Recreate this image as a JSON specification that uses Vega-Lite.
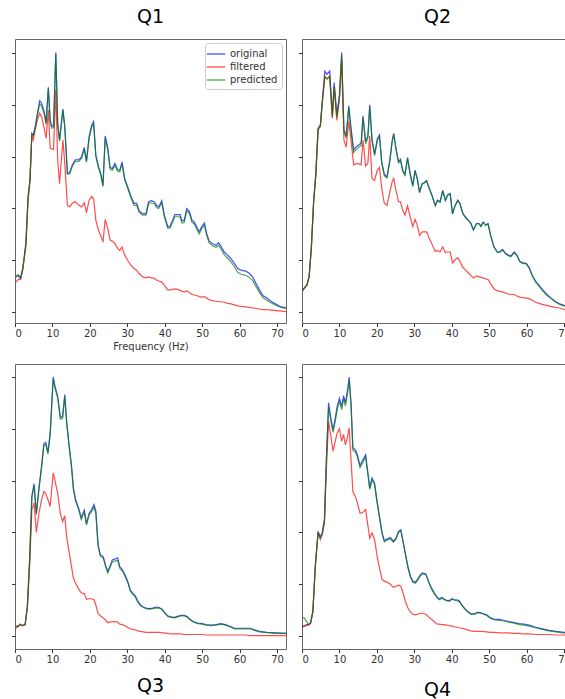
{
"$schema":"https://vega.github.io/schema/vega-lite/v6.json",
"padding":{"left":10,"top":7,"right":0,"bottom":0},
"config":{"font":"DejaVu Sans","view":{"stroke":"#666","strokeWidth":1},
 "axis":{"grid":false,"domain":false,"tickColor":"#333","tickSize":3.5,"labelColor":"#333","labelFontSize":10,"labelFont":"DejaVu Sans","titleFont":"DejaVu Sans","titleFontWeight":"normal","titleColor":"#333","titleFontSize":10},
 "title":{"font":"DejaVu Sans","fontSize":19,"fontWeight":"normal","color":"#000"}},
"datasets":{
"q1":[
{"f":0.2,"original":0.68,"filtered":0.58,"predicted":0.70},
{"f":0.9,"original":0.70,"filtered":0.63,"predicted":0.72},
{"f":1.5,"original":0.65,"filtered":0.63,"predicted":0.66},
{"f":2.1,"original":0.84,"filtered":0.84,"predicted":0.85},
{"f":2.9,"original":1.32,"filtered":1.26,"predicted":1.32},
{"f":3.5,"original":2.23,"filtered":2.16,"predicted":2.22},
{"f":4.0,"original":2.55,"filtered":2.52,"predicted":2.55},
{"f":4.5,"original":3.45,"filtered":3.40,"predicted":3.44},
{"f":4.9,"original":3.42,"filtered":3.32,"predicted":3.40},
{"f":5.4,"original":3.58,"filtered":3.52,"predicted":3.56},
{"f":6.0,"original":3.84,"filtered":3.71,"predicted":3.80},
{"f":6.6,"original":4.08,"filtered":3.84,"predicted":4.02},
{"f":7.1,"original":4.03,"filtered":3.77,"predicted":3.98},
{"f":7.8,"original":3.87,"filtered":3.55,"predicted":3.82},
{"f":8.3,"original":3.66,"filtered":3.35,"predicted":3.62},
{"f":8.9,"original":4.34,"filtered":3.90,"predicted":4.30},
{"f":9.4,"original":3.71,"filtered":3.16,"predicted":3.66},
{"f":9.8,"original":3.59,"filtered":3.15,"predicted":3.55},
{"f":10.3,"original":3.61,"filtered":3.14,"predicted":3.56},
{"f":10.9,"original":5.01,"filtered":4.29,"predicted":4.98},
{"f":11.4,"original":3.65,"filtered":2.94,"predicted":3.62},
{"f":11.9,"original":3.32,"filtered":2.48,"predicted":3.30},
{"f":12.8,"original":3.92,"filtered":3.32,"predicted":3.90},
{"f":13.3,"original":3.58,"filtered":2.87,"predicted":3.56},
{"f":14.0,"original":2.68,"filtered":2.06,"predicted":2.66},
{"f":14.6,"original":2.69,"filtered":2.03,"predicted":2.67},
{"f":15.3,"original":2.84,"filtered":2.10,"predicted":2.81},
{"f":16.1,"original":2.94,"filtered":2.13,"predicted":2.91},
{"f":17.1,"original":2.94,"filtered":2.06,"predicted":2.91},
{"f":17.8,"original":3.00,"filtered":2.03,"predicted":2.97},
{"f":18.5,"original":3.18,"filtered":2.11,"predicted":3.15},
{"f":19.1,"original":2.92,"filtered":1.92,"predicted":2.89},
{"f":19.8,"original":3.39,"filtered":2.16,"predicted":3.35},
{"f":20.5,"original":3.61,"filtered":2.23,"predicted":3.57},
{"f":21.0,"original":3.68,"filtered":2.19,"predicted":3.63},
{"f":21.6,"original":3.03,"filtered":1.77,"predicted":3.00},
{"f":22.3,"original":2.81,"filtered":1.58,"predicted":2.78},
{"f":22.9,"original":2.68,"filtered":1.48,"predicted":2.65},
{"f":23.5,"original":2.45,"filtered":1.35,"predicted":2.42},
{"f":24.1,"original":3.40,"filtered":1.79,"predicted":3.36},
{"f":24.8,"original":3.16,"filtered":1.61,"predicted":3.12},
{"f":25.4,"original":2.79,"filtered":1.39,"predicted":2.76},
{"f":26.0,"original":2.77,"filtered":1.37,"predicted":2.74},
{"f":26.7,"original":2.87,"filtered":1.32,"predicted":2.83},
{"f":27.4,"original":2.75,"filtered":1.23,"predicted":2.72},
{"f":28.0,"original":2.74,"filtered":1.19,"predicted":2.71},
{"f":28.6,"original":2.90,"filtered":1.26,"predicted":2.86},
{"f":29.3,"original":2.58,"filtered":1.10,"predicted":2.55},
{"f":30.1,"original":2.42,"filtered":1.00,"predicted":2.39},
{"f":31.0,"original":2.23,"filtered":0.90,"predicted":2.20},
{"f":31.8,"original":2.10,"filtered":0.84,"predicted":2.06},
{"f":32.5,"original":2.10,"filtered":0.81,"predicted":2.06},
{"f":33.2,"original":1.95,"filtered":0.74,"predicted":1.92},
{"f":34.1,"original":1.90,"filtered":0.68,"predicted":1.87},
{"f":35.0,"original":1.90,"filtered":0.66,"predicted":1.87},
{"f":35.7,"original":2.13,"filtered":0.68,"predicted":2.09},
{"f":36.4,"original":2.15,"filtered":0.66,"predicted":2.11},
{"f":37.2,"original":2.13,"filtered":0.65,"predicted":2.09},
{"f":37.8,"original":2.06,"filtered":0.62,"predicted":2.02},
{"f":38.4,"original":2.03,"filtered":0.60,"predicted":2.00},
{"f":39.2,"original":2.15,"filtered":0.58,"predicted":2.11},
{"f":39.9,"original":1.87,"filtered":0.52,"predicted":1.84},
{"f":40.8,"original":1.65,"filtered":0.43,"predicted":1.62},
{"f":41.4,"original":1.65,"filtered":0.43,"predicted":1.62},
{"f":42.1,"original":1.77,"filtered":0.44,"predicted":1.73},
{"f":42.7,"original":1.88,"filtered":0.45,"predicted":1.84},
{"f":43.4,"original":1.88,"filtered":0.44,"predicted":1.84},
{"f":44.1,"original":1.88,"filtered":0.42,"predicted":1.84},
{"f":44.6,"original":1.76,"filtered":0.40,"predicted":1.72},
{"f":45.2,"original":1.77,"filtered":0.39,"predicted":1.73},
{"f":45.9,"original":2.00,"filtered":0.41,"predicted":1.96},
{"f":46.6,"original":1.94,"filtered":0.38,"predicted":1.90},
{"f":47.3,"original":1.77,"filtered":0.34,"predicted":1.73},
{"f":47.9,"original":1.74,"filtered":0.33,"predicted":1.70},
{"f":48.5,"original":1.65,"filtered":0.32,"predicted":1.61},
{"f":49.2,"original":1.55,"filtered":0.30,"predicted":1.51},
{"f":49.9,"original":1.65,"filtered":0.29,"predicted":1.61},
{"f":50.6,"original":1.72,"filtered":0.30,"predicted":1.68},
{"f":51.2,"original":1.52,"filtered":0.27,"predicted":1.48},
{"f":51.9,"original":1.37,"filtered":0.24,"predicted":1.33},
{"f":52.8,"original":1.32,"filtered":0.22,"predicted":1.28},
{"f":53.7,"original":1.29,"filtered":0.21,"predicted":1.25},
{"f":54.4,"original":1.34,"filtered":0.20,"predicted":1.29},
{"f":55.1,"original":1.26,"filtered":0.20,"predicted":1.21},
{"f":55.9,"original":1.16,"filtered":0.19,"predicted":1.11},
{"f":56.8,"original":1.10,"filtered":0.17,"predicted":1.04},
{"f":57.7,"original":1.03,"filtered":0.16,"predicted":0.97},
{"f":58.6,"original":0.94,"filtered":0.14,"predicted":0.88},
{"f":59.5,"original":0.84,"filtered":0.12,"predicted":0.77},
{"f":60.4,"original":0.81,"filtered":0.11,"predicted":0.73},
{"f":61.6,"original":0.79,"filtered":0.10,"predicted":0.71},
{"f":62.6,"original":0.75,"filtered":0.09,"predicted":0.67},
{"f":63.5,"original":0.68,"filtered":0.08,"predicted":0.61},
{"f":64.4,"original":0.55,"filtered":0.07,"predicted":0.49},
{"f":65.3,"original":0.43,"filtered":0.06,"predicted":0.38},
{"f":66.2,"original":0.32,"filtered":0.05,"predicted":0.28},
{"f":67.1,"original":0.28,"filtered":0.05,"predicted":0.24},
{"f":68.4,"original":0.21,"filtered":0.04,"predicted":0.18},
{"f":69.8,"original":0.15,"filtered":0.03,"predicted":0.13},
{"f":71.1,"original":0.10,"filtered":0.02,"predicted":0.09},
{"f":72.4,"original":0.08,"filtered":0.01,"predicted":0.07}
],
"q2":[
{"f":0.0,"original":0.41,"filtered":0.39,"predicted":0.41},
{"f":0.7,"original":0.47,"filtered":0.47,"predicted":0.47},
{"f":1.3,"original":0.52,"filtered":0.52,"predicted":0.52},
{"f":1.9,"original":0.68,"filtered":0.68,"predicted":0.68},
{"f":2.5,"original":1.26,"filtered":1.23,"predicted":1.25},
{"f":3.1,"original":2.13,"filtered":2.10,"predicted":2.12},
{"f":3.7,"original":2.68,"filtered":2.65,"predicted":2.67},
{"f":4.3,"original":3.55,"filtered":3.52,"predicted":3.53},
{"f":4.9,"original":3.61,"filtered":3.58,"predicted":3.59},
{"f":5.4,"original":4.06,"filtered":4.03,"predicted":4.02},
{"f":6.1,"original":4.65,"filtered":4.55,"predicted":4.54},
{"f":6.7,"original":4.59,"filtered":4.50,"predicted":4.50},
{"f":7.4,"original":4.65,"filtered":4.55,"predicted":4.55},
{"f":8.1,"original":3.81,"filtered":3.74,"predicted":3.76},
{"f":8.6,"original":4.43,"filtered":4.35,"predicted":4.36},
{"f":9.3,"original":3.81,"filtered":3.70,"predicted":3.76},
{"f":10.0,"original":4.19,"filtered":4.10,"predicted":4.14},
{"f":10.6,"original":5.01,"filtered":4.87,"predicted":4.96},
{"f":11.2,"original":3.52,"filtered":3.32,"predicted":3.48},
{"f":11.8,"original":3.40,"filtered":3.18,"predicted":3.36},
{"f":12.5,"original":3.98,"filtered":3.68,"predicted":3.94},
{"f":13.1,"original":3.55,"filtered":3.32,"predicted":3.50},
{"f":13.8,"original":3.13,"filtered":2.84,"predicted":3.08},
{"f":14.5,"original":3.19,"filtered":2.87,"predicted":3.14},
{"f":15.2,"original":3.23,"filtered":2.86,"predicted":3.18},
{"f":15.8,"original":3.26,"filtered":2.84,"predicted":3.21},
{"f":16.3,"original":3.79,"filtered":3.32,"predicted":3.75},
{"f":17.0,"original":3.29,"filtered":2.82,"predicted":3.25},
{"f":17.6,"original":3.40,"filtered":2.87,"predicted":3.36},
{"f":18.1,"original":4.00,"filtered":3.40,"predicted":3.96},
{"f":18.7,"original":3.34,"filtered":2.58,"predicted":3.30},
{"f":19.4,"original":3.05,"filtered":2.54,"predicted":3.02},
{"f":20.1,"original":3.34,"filtered":2.74,"predicted":3.30},
{"f":20.7,"original":3.42,"filtered":2.79,"predicted":3.39},
{"f":21.3,"original":2.90,"filtered":2.39,"predicted":2.87},
{"f":22.0,"original":2.66,"filtered":2.10,"predicted":2.63},
{"f":22.7,"original":2.61,"filtered":2.06,"predicted":2.59},
{"f":23.4,"original":2.90,"filtered":2.29,"predicted":2.88},
{"f":24.1,"original":3.31,"filtered":2.52,"predicted":3.29},
{"f":24.5,"original":3.45,"filtered":2.58,"predicted":3.43},
{"f":25.1,"original":3.16,"filtered":2.35,"predicted":3.14},
{"f":25.8,"original":2.90,"filtered":2.13,"predicted":2.88},
{"f":26.3,"original":2.95,"filtered":2.13,"predicted":2.93},
{"f":26.9,"original":2.74,"filtered":1.97,"predicted":2.72},
{"f":27.5,"original":2.66,"filtered":1.87,"predicted":2.64},
{"f":28.2,"original":2.98,"filtered":2.05,"predicted":2.96},
{"f":28.9,"original":2.68,"filtered":1.84,"predicted":2.65},
{"f":29.6,"original":2.45,"filtered":1.65,"predicted":2.42},
{"f":30.2,"original":2.74,"filtered":1.79,"predicted":2.72},
{"f":30.8,"original":2.58,"filtered":1.68,"predicted":2.56},
{"f":31.4,"original":2.32,"filtered":1.48,"predicted":2.30},
{"f":32.1,"original":2.48,"filtered":1.55,"predicted":2.47},
{"f":32.7,"original":2.50,"filtered":1.55,"predicted":2.49},
{"f":33.3,"original":2.54,"filtered":1.55,"predicted":2.53},
{"f":34.0,"original":2.39,"filtered":1.42,"predicted":2.38},
{"f":34.7,"original":2.26,"filtered":1.32,"predicted":2.25},
{"f":35.6,"original":2.06,"filtered":1.17,"predicted":2.05},
{"f":36.2,"original":2.16,"filtered":1.19,"predicted":2.15},
{"f":36.9,"original":2.13,"filtered":1.16,"predicted":2.12},
{"f":37.6,"original":2.35,"filtered":1.26,"predicted":2.34},
{"f":38.3,"original":2.16,"filtered":1.15,"predicted":2.15},
{"f":38.9,"original":2.26,"filtered":1.16,"predicted":2.25},
{"f":39.6,"original":2.29,"filtered":1.16,"predicted":2.28},
{"f":40.2,"original":1.90,"filtered":0.95,"predicted":1.89},
{"f":40.9,"original":2.06,"filtered":1.01,"predicted":2.05},
{"f":41.6,"original":2.16,"filtered":1.05,"predicted":2.15},
{"f":42.2,"original":2.10,"filtered":0.98,"predicted":2.09},
{"f":42.9,"original":1.92,"filtered":0.87,"predicted":1.91},
{"f":43.6,"original":1.84,"filtered":0.82,"predicted":1.83},
{"f":44.5,"original":1.77,"filtered":0.75,"predicted":1.76},
{"f":45.1,"original":1.72,"filtered":0.71,"predicted":1.71},
{"f":45.8,"original":1.59,"filtered":0.66,"predicted":1.58},
{"f":46.6,"original":1.71,"filtered":0.70,"predicted":1.70},
{"f":47.3,"original":1.71,"filtered":0.68,"predicted":1.70},
{"f":47.8,"original":1.66,"filtered":0.67,"predicted":1.65},
{"f":48.4,"original":1.74,"filtered":0.66,"predicted":1.73},
{"f":49.1,"original":1.68,"filtered":0.64,"predicted":1.67},
{"f":49.7,"original":1.71,"filtered":0.63,"predicted":1.70},
{"f":50.4,"original":1.48,"filtered":0.55,"predicted":1.47},
{"f":51.3,"original":1.26,"filtered":0.45,"predicted":1.25},
{"f":52.2,"original":1.16,"filtered":0.41,"predicted":1.15},
{"f":52.8,"original":1.16,"filtered":0.40,"predicted":1.15},
{"f":53.6,"original":1.21,"filtered":0.39,"predicted":1.20},
{"f":54.3,"original":1.14,"filtered":0.37,"predicted":1.13},
{"f":55.1,"original":1.10,"filtered":0.35,"predicted":1.09},
{"f":55.8,"original":1.08,"filtered":0.34,"predicted":1.07},
{"f":56.7,"original":1.16,"filtered":0.34,"predicted":1.15},
{"f":57.4,"original":1.10,"filtered":0.31,"predicted":1.09},
{"f":58.2,"original":0.98,"filtered":0.29,"predicted":0.97},
{"f":58.9,"original":0.95,"filtered":0.28,"predicted":0.94},
{"f":59.9,"original":0.94,"filtered":0.27,"predicted":0.93},
{"f":60.7,"original":0.86,"filtered":0.26,"predicted":0.85},
{"f":61.5,"original":0.71,"filtered":0.23,"predicted":0.70},
{"f":62.4,"original":0.60,"filtered":0.19,"predicted":0.58},
{"f":63.3,"original":0.52,"filtered":0.17,"predicted":0.50},
{"f":64.2,"original":0.44,"filtered":0.15,"predicted":0.42},
{"f":65.3,"original":0.35,"filtered":0.13,"predicted":0.33},
{"f":66.4,"original":0.28,"filtered":0.11,"predicted":0.27},
{"f":67.6,"original":0.21,"filtered":0.09,"predicted":0.20},
{"f":68.8,"original":0.16,"filtered":0.08,"predicted":0.15},
{"f":70.0,"original":0.13,"filtered":0.05,"predicted":0.12},
{"f":72.4,"original":0.09,"filtered":0.03,"predicted":0.08}
],
"q3":[
{"f":0.2,"original":0.19,"filtered":0.15,"predicted":0.18},
{"f":0.9,"original":0.19,"filtered":0.19,"predicted":0.19},
{"f":1.4,"original":0.23,"filtered":0.22,"predicted":0.22},
{"f":2.0,"original":0.20,"filtered":0.20,"predicted":0.20},
{"f":2.7,"original":0.22,"filtered":0.22,"predicted":0.22},
{"f":3.3,"original":0.57,"filtered":0.54,"predicted":0.56},
{"f":3.9,"original":1.47,"filtered":1.34,"predicted":1.45},
{"f":4.5,"original":2.70,"filtered":2.44,"predicted":2.67},
{"f":5.1,"original":2.94,"filtered":2.57,"predicted":2.90},
{"f":5.7,"original":2.37,"filtered":2.00,"predicted":2.34},
{"f":6.4,"original":2.86,"filtered":2.37,"predicted":2.83},
{"f":7.1,"original":3.28,"filtered":2.63,"predicted":3.25},
{"f":7.7,"original":3.71,"filtered":2.79,"predicted":3.67},
{"f":8.2,"original":3.74,"filtered":2.75,"predicted":3.70},
{"f":8.8,"original":3.55,"filtered":2.63,"predicted":3.51},
{"f":9.4,"original":3.92,"filtered":2.50,"predicted":3.88},
{"f":10.2,"original":5.00,"filtered":3.15,"predicted":4.96},
{"f":10.7,"original":4.82,"filtered":2.99,"predicted":4.78},
{"f":11.4,"original":4.63,"filtered":2.76,"predicted":4.59},
{"f":12.1,"original":4.23,"filtered":2.37,"predicted":4.19},
{"f":12.7,"original":4.23,"filtered":2.21,"predicted":4.20},
{"f":13.3,"original":4.66,"filtered":2.32,"predicted":4.62},
{"f":13.8,"original":4.14,"filtered":1.92,"predicted":4.11},
{"f":14.5,"original":3.66,"filtered":1.60,"predicted":3.63},
{"f":15.1,"original":3.28,"filtered":1.34,"predicted":3.25},
{"f":15.6,"original":2.86,"filtered":1.12,"predicted":2.83},
{"f":16.2,"original":2.63,"filtered":1.02,"predicted":2.60},
{"f":17.0,"original":2.47,"filtered":0.91,"predicted":2.44},
{"f":17.7,"original":2.28,"filtered":0.83,"predicted":2.25},
{"f":18.5,"original":2.43,"filtered":0.82,"predicted":2.40},
{"f":19.1,"original":2.17,"filtered":0.71,"predicted":2.14},
{"f":19.8,"original":2.37,"filtered":0.72,"predicted":2.34},
{"f":20.5,"original":2.44,"filtered":0.72,"predicted":2.40},
{"f":21.1,"original":2.54,"filtered":0.70,"predicted":2.49},
{"f":21.6,"original":2.41,"filtered":0.60,"predicted":2.36},
{"f":22.2,"original":1.76,"filtered":0.43,"predicted":1.73},
{"f":22.8,"original":1.57,"filtered":0.39,"predicted":1.54},
{"f":23.6,"original":1.53,"filtered":0.35,"predicted":1.50},
{"f":24.3,"original":1.34,"filtered":0.30,"predicted":1.31},
{"f":24.8,"original":1.25,"filtered":0.26,"predicted":1.22},
{"f":25.3,"original":1.34,"filtered":0.27,"predicted":1.31},
{"f":26.0,"original":1.47,"filtered":0.28,"predicted":1.43},
{"f":26.8,"original":1.49,"filtered":0.28,"predicted":1.45},
{"f":27.4,"original":1.51,"filtered":0.27,"predicted":1.46},
{"f":28.0,"original":1.34,"filtered":0.23,"predicted":1.31},
{"f":28.7,"original":1.28,"filtered":0.22,"predicted":1.25},
{"f":29.4,"original":1.18,"filtered":0.20,"predicted":1.15},
{"f":30.1,"original":1.06,"filtered":0.17,"predicted":1.04},
{"f":30.8,"original":0.89,"filtered":0.14,"predicted":0.87},
{"f":31.4,"original":0.83,"filtered":0.13,"predicted":0.81},
{"f":32.1,"original":0.78,"filtered":0.12,"predicted":0.76},
{"f":32.7,"original":0.69,"filtered":0.10,"predicted":0.67},
{"f":33.5,"original":0.60,"filtered":0.09,"predicted":0.59},
{"f":34.3,"original":0.56,"filtered":0.08,"predicted":0.55},
{"f":35.0,"original":0.54,"filtered":0.07,"predicted":0.53},
{"f":35.9,"original":0.53,"filtered":0.07,"predicted":0.52},
{"f":36.8,"original":0.54,"filtered":0.07,"predicted":0.53},
{"f":37.6,"original":0.56,"filtered":0.07,"predicted":0.54},
{"f":38.5,"original":0.55,"filtered":0.07,"predicted":0.54},
{"f":39.3,"original":0.52,"filtered":0.06,"predicted":0.51},
{"f":39.9,"original":0.46,"filtered":0.06,"predicted":0.45},
{"f":40.8,"original":0.39,"filtered":0.05,"predicted":0.38},
{"f":41.7,"original":0.37,"filtered":0.04,"predicted":0.36},
{"f":42.6,"original":0.36,"filtered":0.04,"predicted":0.35},
{"f":43.4,"original":0.38,"filtered":0.04,"predicted":0.37},
{"f":44.3,"original":0.40,"filtered":0.04,"predicted":0.39},
{"f":45.2,"original":0.40,"filtered":0.03,"predicted":0.39},
{"f":45.9,"original":0.38,"filtered":0.03,"predicted":0.37},
{"f":46.7,"original":0.33,"filtered":0.03,"predicted":0.32},
{"f":47.6,"original":0.28,"filtered":0.03,"predicted":0.27},
{"f":48.8,"original":0.25,"filtered":0.03,"predicted":0.24},
{"f":50.0,"original":0.24,"filtered":0.03,"predicted":0.23},
{"f":51.0,"original":0.22,"filtered":0.02,"predicted":0.21},
{"f":52.4,"original":0.21,"filtered":0.02,"predicted":0.20},
{"f":53.7,"original":0.22,"filtered":0.02,"predicted":0.21},
{"f":55.0,"original":0.24,"filtered":0.02,"predicted":0.23},
{"f":56.2,"original":0.22,"filtered":0.02,"predicted":0.21},
{"f":57.4,"original":0.19,"filtered":0.02,"predicted":0.18},
{"f":58.6,"original":0.15,"filtered":0.02,"predicted":0.14},
{"f":59.9,"original":0.15,"filtered":0.02,"predicted":0.14},
{"f":61.6,"original":0.15,"filtered":0.02,"predicted":0.14},
{"f":62.8,"original":0.15,"filtered":0.01,"predicted":0.14},
{"f":64.0,"original":0.12,"filtered":0.01,"predicted":0.11},
{"f":65.3,"original":0.09,"filtered":0.01,"predicted":0.08},
{"f":67.1,"original":0.07,"filtered":0.01,"predicted":0.07},
{"f":69.8,"original":0.06,"filtered":0.01,"predicted":0.05},
{"f":72.4,"original":0.05,"filtered":0.01,"predicted":0.05}
],
"q4":[
{"f":0.0,"original":0.19,"filtered":0.17,"predicted":0.35},
{"f":0.6,"original":0.19,"filtered":0.19,"predicted":0.35},
{"f":1.2,"original":0.22,"filtered":0.21,"predicted":0.28},
{"f":1.8,"original":0.22,"filtered":0.21,"predicted":0.23},
{"f":2.3,"original":0.25,"filtered":0.25,"predicted":0.25},
{"f":2.9,"original":0.48,"filtered":0.46,"predicted":0.47},
{"f":3.6,"original":1.41,"filtered":1.38,"predicted":1.39},
{"f":4.3,"original":2.02,"filtered":1.99,"predicted":1.99},
{"f":4.9,"original":1.92,"filtered":1.86,"predicted":1.90},
{"f":5.4,"original":1.99,"filtered":1.96,"predicted":1.97},
{"f":6.0,"original":2.25,"filtered":2.18,"predicted":2.23},
{"f":6.5,"original":3.40,"filtered":3.21,"predicted":3.36},
{"f":7.1,"original":4.50,"filtered":4.14,"predicted":4.42},
{"f":7.7,"original":4.21,"filtered":3.86,"predicted":4.15},
{"f":8.3,"original":3.98,"filtered":3.57,"predicted":3.93},
{"f":8.9,"original":4.21,"filtered":3.76,"predicted":4.15},
{"f":9.4,"original":4.43,"filtered":3.92,"predicted":4.37},
{"f":10.0,"original":4.59,"filtered":4.00,"predicted":4.53},
{"f":10.6,"original":4.43,"filtered":3.76,"predicted":4.37},
{"f":11.1,"original":4.64,"filtered":3.89,"predicted":4.58},
{"f":11.6,"original":4.50,"filtered":3.69,"predicted":4.44},
{"f":12.2,"original":4.76,"filtered":3.86,"predicted":4.70},
{"f":12.6,"original":5.00,"filtered":4.02,"predicted":4.94},
{"f":13.1,"original":4.50,"filtered":3.40,"predicted":4.44},
{"f":13.6,"original":3.63,"filtered":2.79,"predicted":3.58},
{"f":14.2,"original":3.60,"filtered":2.70,"predicted":3.56},
{"f":14.8,"original":3.50,"filtered":2.57,"predicted":3.46},
{"f":15.5,"original":3.29,"filtered":2.37,"predicted":3.25},
{"f":16.3,"original":3.40,"filtered":2.39,"predicted":3.36},
{"f":17.0,"original":3.50,"filtered":2.44,"predicted":3.46},
{"f":17.5,"original":3.21,"filtered":2.18,"predicted":3.17},
{"f":18.1,"original":2.86,"filtered":1.89,"predicted":2.83},
{"f":18.7,"original":3.05,"filtered":1.99,"predicted":3.01},
{"f":19.4,"original":2.95,"filtered":1.86,"predicted":2.92},
{"f":20.0,"original":2.63,"filtered":1.57,"predicted":2.60},
{"f":20.7,"original":2.31,"filtered":1.31,"predicted":2.28},
{"f":21.4,"original":1.99,"filtered":1.09,"predicted":1.97},
{"f":22.0,"original":1.84,"filtered":1.06,"predicted":1.82},
{"f":22.7,"original":1.87,"filtered":1.04,"predicted":1.85},
{"f":23.6,"original":1.90,"filtered":1.00,"predicted":1.88},
{"f":24.4,"original":1.83,"filtered":0.94,"predicted":1.81},
{"f":25.1,"original":1.89,"filtered":0.96,"predicted":1.87},
{"f":25.8,"original":2.02,"filtered":0.98,"predicted":2.00},
{"f":26.4,"original":2.05,"filtered":0.96,"predicted":2.03},
{"f":27.0,"original":1.83,"filtered":0.83,"predicted":1.81},
{"f":27.6,"original":1.60,"filtered":0.67,"predicted":1.58},
{"f":28.3,"original":1.34,"filtered":0.54,"predicted":1.32},
{"f":29.0,"original":1.15,"filtered":0.46,"predicted":1.13},
{"f":29.6,"original":1.06,"filtered":0.42,"predicted":1.04},
{"f":30.3,"original":1.04,"filtered":0.41,"predicted":1.02},
{"f":30.9,"original":1.10,"filtered":0.42,"predicted":1.08},
{"f":31.6,"original":1.18,"filtered":0.44,"predicted":1.16},
{"f":32.2,"original":1.22,"filtered":0.44,"predicted":1.20},
{"f":33.1,"original":1.20,"filtered":0.42,"predicted":1.18},
{"f":33.8,"original":1.06,"filtered":0.37,"predicted":1.04},
{"f":34.5,"original":0.94,"filtered":0.33,"predicted":0.92},
{"f":35.3,"original":0.84,"filtered":0.28,"predicted":0.82},
{"f":36.1,"original":0.75,"filtered":0.23,"predicted":0.74},
{"f":36.7,"original":0.71,"filtered":0.23,"predicted":0.70},
{"f":37.4,"original":0.75,"filtered":0.22,"predicted":0.73},
{"f":38.0,"original":0.71,"filtered":0.22,"predicted":0.70},
{"f":38.7,"original":0.69,"filtered":0.21,"predicted":0.68},
{"f":39.3,"original":0.68,"filtered":0.20,"predicted":0.67},
{"f":40.1,"original":0.72,"filtered":0.19,"predicted":0.71},
{"f":40.7,"original":0.70,"filtered":0.18,"predicted":0.69},
{"f":41.4,"original":0.70,"filtered":0.17,"predicted":0.68},
{"f":42.0,"original":0.68,"filtered":0.16,"predicted":0.67},
{"f":42.7,"original":0.60,"filtered":0.15,"predicted":0.59},
{"f":43.4,"original":0.54,"filtered":0.14,"predicted":0.53},
{"f":44.2,"original":0.48,"filtered":0.12,"predicted":0.47},
{"f":45.1,"original":0.43,"filtered":0.10,"predicted":0.42},
{"f":46.0,"original":0.43,"filtered":0.09,"predicted":0.42},
{"f":47.1,"original":0.46,"filtered":0.09,"predicted":0.45},
{"f":48.2,"original":0.44,"filtered":0.09,"predicted":0.43},
{"f":49.3,"original":0.41,"filtered":0.08,"predicted":0.40},
{"f":50.4,"original":0.35,"filtered":0.07,"predicted":0.34},
{"f":51.6,"original":0.32,"filtered":0.07,"predicted":0.31},
{"f":52.8,"original":0.32,"filtered":0.06,"predicted":0.30},
{"f":54.0,"original":0.30,"filtered":0.06,"predicted":0.29},
{"f":55.3,"original":0.28,"filtered":0.06,"predicted":0.27},
{"f":56.7,"original":0.26,"filtered":0.05,"predicted":0.25},
{"f":58.0,"original":0.24,"filtered":0.05,"predicted":0.22},
{"f":59.3,"original":0.23,"filtered":0.04,"predicted":0.21},
{"f":60.7,"original":0.21,"filtered":0.04,"predicted":0.19},
{"f":62.4,"original":0.17,"filtered":0.03,"predicted":0.16},
{"f":64.2,"original":0.14,"filtered":0.03,"predicted":0.13},
{"f":66.0,"original":0.11,"filtered":0.03,"predicted":0.10},
{"f":67.8,"original":0.09,"filtered":0.02,"predicted":0.08},
{"f":70.0,"original":0.07,"filtered":0.02,"predicted":0.06},
{"f":72.4,"original":0.06,"filtered":0.02,"predicted":0.05}
]
},
"columns":2,
"spacing":{"row":11,"column":10},
"resolve":{"scale":{"color":"independent"},"legend":{"color":"independent"}},
"concat":[
{"width":271,"height":284,"data":{"name":"q1"},
 "title":{"text":"Q1","offset":12},
 "transform":[{"fold":["original","filtered","predicted"],"as":["series","v"]}],
 "mark":{"type":"line","strokeWidth":1.2,"opacity":0.7,"clip":true},
 "encoding":{
  "x":{"field":"f","type":"quantitative","scale":{"domain":[0,72.4],"nice":false,"zero":false},"axis":{"values":[0,10,20,30,40,50,60,70],"title":"Frequency (Hz)","titlePadding":3,"labelPadding":2}},
  "y":{"field":"v","type":"quantitative","scale":{"domain":[-0.21,5.27],"nice":false,"zero":false},"axis":{"values":[0,1,2,3,4,5],"labels":false,"title":null}},
  "color":{"field":"series","type":"nominal","sort":["original","filtered","predicted"],"scale":{"domain":["original","filtered","predicted"],"range":["#0000ff","#ff0000","#008000"]},
   "legend":{"orient":"top-right","offset":4,"title":null,"strokeColor":"#ccc","padding":4,"cornerRadius":3,"fillColor":"white","labelFontSize":10,"labelColor":"#333","symbolType":"M-1.5,0H1.5","symbolSize":150,"symbolStrokeWidth":1.3,"symbolOpacity":0.7,"rowPadding":1,"labelOffset":7}}
 }},
{"width":271,"height":284,"data":{"name":"q2"},
 "title":{"text":"Q2","offset":12},
 "transform":[{"fold":["original","filtered","predicted"],"as":["series","v"]}],
 "mark":{"type":"line","strokeWidth":1.2,"opacity":0.7,"clip":true},
 "encoding":{
  "x":{"field":"f","type":"quantitative","scale":{"domain":[0,72.4],"nice":false,"zero":false},"axis":{"values":[0,10,20,30,40,50,60,70],"title":null,"labelPadding":2}},
  "y":{"field":"v","type":"quantitative","scale":{"domain":[-0.21,5.27],"nice":false,"zero":false},"axis":{"values":[0,1,2,3,4,5],"labels":false,"title":null}},
  "color":{"field":"series","type":"nominal","scale":{"domain":["original","filtered","predicted"],"range":["#0000ff","#ff0000","#008000"]},"legend":null}
 }},
{"width":271,"height":285,"data":{"name":"q3"},
 "title":{"text":"Q3","orient":"bottom","offset":12},
 "transform":[{"fold":["original","filtered","predicted"],"as":["series","v"]}],
 "mark":{"type":"line","strokeWidth":1.2,"opacity":0.7,"clip":true},
 "encoding":{
  "x":{"field":"f","type":"quantitative","scale":{"domain":[0,72.4],"nice":false,"zero":false},"axis":{"values":[0,10,20,30,40,50,60,70],"title":null,"labelPadding":2}},
  "y":{"field":"v","type":"quantitative","scale":{"domain":[-0.25,5.25],"nice":false,"zero":false},"axis":{"values":[0,1,2,3,4,5],"labels":false,"title":null}},
  "color":{"field":"series","type":"nominal","scale":{"domain":["original","filtered","predicted"],"range":["#0000ff","#ff0000","#008000"]},"legend":null}
 }},
{"width":271,"height":285,"data":{"name":"q4"},
 "title":{"text":"Q4","orient":"bottom","offset":16},
 "transform":[{"fold":["original","filtered","predicted"],"as":["series","v"]}],
 "mark":{"type":"line","strokeWidth":1.2,"opacity":0.7,"clip":true},
 "encoding":{
  "x":{"field":"f","type":"quantitative","scale":{"domain":[0,72.4],"nice":false,"zero":false},"axis":{"values":[0,10,20,30,40,50,60,70],"title":null,"labelPadding":2}},
  "y":{"field":"v","type":"quantitative","scale":{"domain":[-0.25,5.25],"nice":false,"zero":false},"axis":{"values":[0,1,2,3,4,5],"labels":false,"title":null}},
  "color":{"field":"series","type":"nominal","scale":{"domain":["original","filtered","predicted"],"range":["#0000ff","#ff0000","#008000"]},"legend":null}
 }}
]
}
